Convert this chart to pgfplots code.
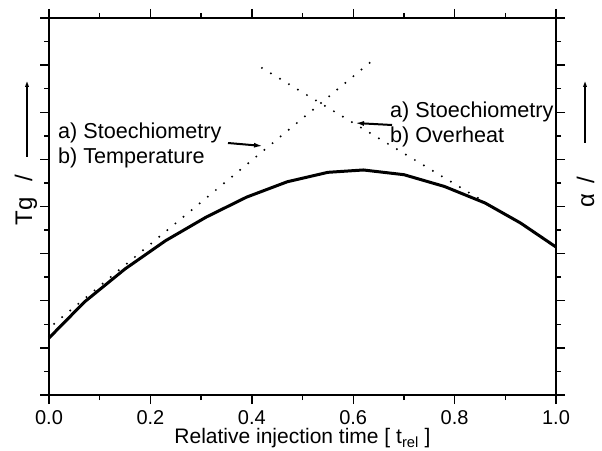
\documentclass[border=0pt]{standalone}
\usepackage{fontspec}
\setmainfont{Liberation Sans}
\usepackage{pgfplots}
\pgfplotsset{compat=1.18}
\usetikzlibrary{arrows.meta}
\begin{document}
\begin{tikzpicture}[x=1pt,y=1pt]
\useasboundingbox (0,0) rectangle (602,450);
\begin{axis}[
  at={(49pt,55pt)}, anchor=south west,
  scale only axis, width=507pt, height=377pt,
  xmin=0, xmax=1, ymin=0, ymax=16,
  xtick={0,0.2,0.4,0.6,0.8,1.0},
  minor xtick={0.1,0.3,0.5,0.7,0.9},
  ytick={0,2,...,16},
  minor ytick={1,3,...,15},
  yticklabels={},
  tick align=outside,
  tick pos=both,
  major tick length=9pt,
  minor tick length=5pt,
  every tick/.style={black, line width=1.4pt},
  axis line style={line width=1.6pt},
  /pgf/number format/assume math mode=true,
  /pgf/number format/.cd, fixed, fixed zerofill, precision=1,
  /pgfplots/.cd,
  xticklabel style={font=\fontsize{20}{24}\selectfont, anchor=base, yshift=-20.5pt},
  clip=false,
]
% solid curve
\addplot[black, line width=3pt, line join=round] coordinates {
(0.0,2.42) (0.07,3.95) (0.15,5.35) (0.23,6.55) (0.31,7.55) (0.39,8.40)
(0.47,9.05) (0.55,9.45) (0.62,9.55) (0.70,9.35) (0.78,8.85) (0.86,8.15)
(0.93,7.30) (1.0,6.28)};
% rising dotted line
\addplot[black, line width=2.2pt, line cap=round, dash pattern=on 0pt off 10.5pt] coordinates {
(0.01,3.02) (0.637,14.18)};
% falling dotted line
\addplot[black, line width=2.2pt, line cap=round, dash pattern=on 0pt off 10.5pt] coordinates {
(0.42,13.88) (0.85,8.31)};
\end{axis}
% annotations
\node[anchor=base west, inner sep=0pt, font=\fontsize{21.6}{25}\selectfont] at (58,311) {a) Stoechiometry};
\node[anchor=base west, inner sep=0pt, font=\fontsize{21.6}{25}\selectfont] at (58,286) {b) Temperature};
\node[anchor=base west, inner sep=0pt, font=\fontsize{21.6}{25}\selectfont] at (390,332) {a) Stoechiometry};
\node[anchor=base west, inner sep=0pt, font=\fontsize{21.6}{25}\selectfont] at (390,307) {b) Overheat};
\draw[line width=2pt, -{Latex[length=9pt,width=5pt]}] (228,307) -- (263,304);
\draw[line width=2pt, -{Latex[length=9pt,width=5pt]}] (392,325) -- (355,327);
% axis labels
\node[anchor=base, inner sep=0pt, font=\fontsize{21}{26}\selectfont] at (302.5,6.5) {Relative injection time [ t\textsubscript{rel} ]};
\node[anchor=base, rotate=90, inner sep=0pt, font=\fontsize{24}{28}\selectfont] at (32,250) {Tg\hspace{16pt}/};
\draw[line width=2pt, -{Latex[length=9pt,width=4pt]}] (27,293) -- (27,372);
\node[anchor=base, rotate=90, inner sep=0pt, font=\fontsize{24}{28}\selectfont] at (594,258) {α\hspace{10pt}/};
\draw[line width=2pt, -{Latex[length=9pt,width=4pt]}] (585,307) -- (585,372);
\end{tikzpicture}
\end{document}
